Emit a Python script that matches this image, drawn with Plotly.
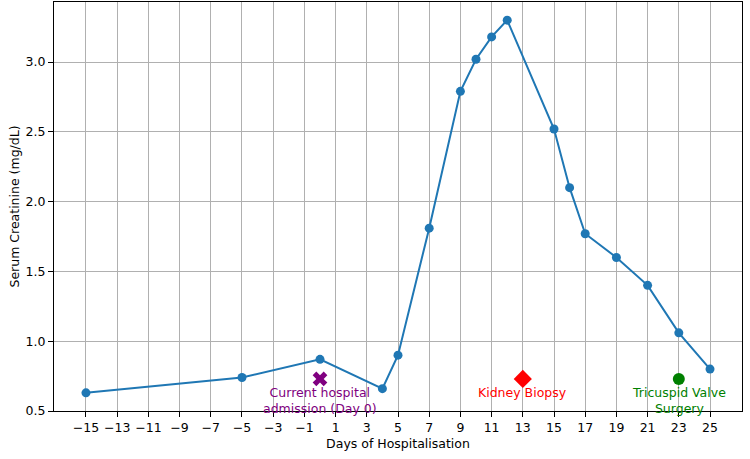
import plotly.graph_objects as go

days = [-15, -5, 0, 4, 5, 7, 9, 10, 11, 12, 15, 16, 17, 19, 21, 23, 25]
creatinine = [0.63, 0.74, 0.87, 0.66, 0.90, 1.81, 2.79, 3.02, 3.18, 3.30, 2.52, 2.10, 1.77, 1.60, 1.40, 1.06, 0.80]

event_days = [0, 13, 23]
event_level = [0.73, 0.73, 0.73]
event_labels = ["Current hospital<br>admission (Day 0)", "Kidney Biopsy", "Tricuspid Valve<br>Surgery"]
event_colors = ["purple", "red", "green"]
event_symbols = ["x", "diamond", "circle"]
event_sizes = [13, 14, 12]

tick_vals = list(range(-15, 26, 2))
tick_text = [str(v).replace("-", "\u2212") for v in tick_vals]

FS = 12.5

fig = go.Figure()
fig.add_trace(go.Scatter(
    x=days, y=creatinine, mode="lines+markers",
    line=dict(color="#1f77b4", width=2),
    marker=dict(color="#1f77b4", size=9),
    showlegend=False, cliponaxis=False,
))
for d, lv, lab, c, s, sz in zip(event_days, event_level, event_labels, event_colors, event_symbols, event_sizes):
    fig.add_trace(go.Scatter(
        x=[d], y=[lv], mode="markers",
        marker=dict(color=c, symbol=s, size=sz, line=dict(width=0)),
        showlegend=False, cliponaxis=False,
    ))
    fig.add_annotation(x=d, y=lv, text=lab, showarrow=False, yanchor="top", yshift=-4,
                       font=dict(color=c, size=FS, family="DejaVu Sans"), align="center")

fig.update_layout(
    width=750, height=459,
    margin=dict(l=54, r=8, t=2, b=48),
    plot_bgcolor="white", paper_bgcolor="white",
    font=dict(family="DejaVu Sans", size=FS, color="black"),
    xaxis=dict(
        range=[-17.05, 27.05], tickvals=tick_vals, ticktext=tick_text,
        showgrid=True, gridcolor="#b0b0b0", gridwidth=1,
        showline=True, linecolor="black", linewidth=1, mirror=True,
        ticks="outside", ticklen=5, tickcolor="black",
        zeroline=False,
        title=dict(text="Days of Hospitalisation", font=dict(size=FS), standoff=5),
    ),
    yaxis=dict(
        range=[0.5, 3.43], tickvals=[0.5, 1.0, 1.5, 2.0, 2.5, 3.0],
        ticktext=["0.5", "1.0", "1.5", "2.0", "2.5", "3.0"],
        showgrid=True, gridcolor="#b0b0b0", gridwidth=1,
        showline=True, linecolor="black", linewidth=1, mirror=True,
        ticks="outside", ticklen=5, tickcolor="black", ticklabelstandoff=0,
        zeroline=False,
        title=dict(text="Serum Creatinine (mg/dL)", font=dict(size=FS), standoff=3),
    ),
)
fig.write_html("out.html")
